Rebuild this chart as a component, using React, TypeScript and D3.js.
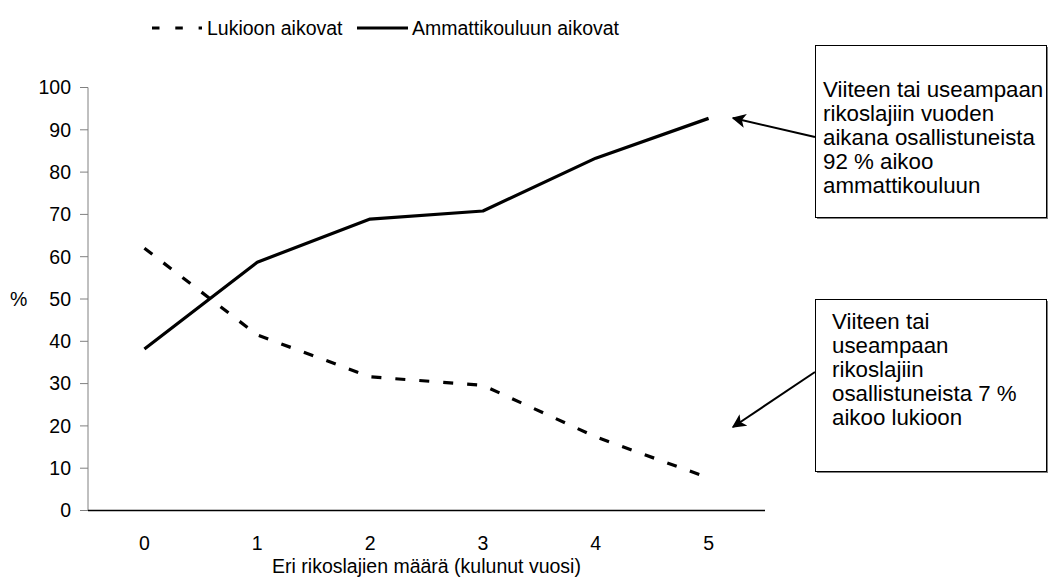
import React from 'react';
import * as d3 from 'd3';

const categories = ['0', '1', '2', '3', '4', '5'];
const lukioon = [62.0, 41.5, 31.6, 29.6, 17.4, 7.7];
const ammatti = [38.2, 58.7, 68.9, 70.8, 83.3, 92.7];
const yTicks = [0, 10, 20, 30, 40, 50, 60, 70, 80, 90, 100];
const seriesNames = ['Lukioon aikovat', 'Ammattikouluun aikovat'];
const note1 = [
  'Viiteen tai useampaan',
  'rikoslajiin vuoden',
  'aikana osallistuneista',
  '92 % aikoo',
  'ammattikouluun',
];
const note2 = [
  'Viiteen tai',
  'useampaan',
  'rikoslajiin',
  'osallistuneista 7 %',
  'aikoo lukioon',
];

const W = 1049;
const H = 577;
const FONT = 'Liberation Sans, Arial, sans-serif';
const FS = 19.5;
const NOTE_FS = 22.3;

export default function App() {
  const x = d3.scalePoint<string>().domain(categories).range([88, 765]).padding(0.5);
  const y = d3.scaleLinear().domain([0, 100]).range([510.5, 87.5]);

  const line = d3
    .line<number>()
    .x((_, i) => x(categories[i]) as number)
    .y((d) => y(d));

  return (
    <svg
      width={W}
      height={H}
      style={{ position: 'absolute', left: 0, top: 0, background: '#fff' }}
      fontFamily={FONT}
      fontSize={FS}
    >
      <defs>
        <marker
          id="arr"
          viewBox="0 0 10 10"
          refX="9"
          refY="5"
          markerWidth="14"
          markerHeight="14"
          markerUnits="userSpaceOnUse"
          orient="auto"
        >
          <path d="M0,0 L10,5 L0,10 L2.5,5 Z" fill="#000" />
        </marker>
      </defs>

      {/* legend */}
      <line x1={152} x2={202} y1={28} y2={28} stroke="#000" strokeWidth={3} strokeDasharray="7.5,15.8" />
      <text x={207} y={35}>{seriesNames[0]}</text>
      <line x1={357} x2={408} y1={28} y2={28} stroke="#000" strokeWidth={3} />
      <text x={412} y={35}>{seriesNames[1]}</text>

      {/* y axis */}
      <line x1={88} x2={88} y1={y(100)} y2={y(0)} stroke="#808080" strokeWidth={1} />
      {yTicks.map((t) => (
        <g key={t}>
          <line x1={80} x2={88} y1={y(t)} y2={y(t)} stroke="#808080" strokeWidth={1} />
          <text x={71} y={y(t)} dy="0.35em" textAnchor="end">
            {t}
          </text>
        </g>
      ))}
      <text x={10} y={y(50)} dy="0.35em">%</text>

      {/* x axis */}
      <line x1={88} x2={765} y1={y(0)} y2={y(0)} stroke="#000" strokeWidth={1.5} />
      {categories.map((c) => (
        <text key={c} x={x(c)} y={550} textAnchor="middle">
          {c}
        </text>
      ))}
      <text x={426.5} y={573} textAnchor="middle">
        Eri rikoslajien määrä (kulunut vuosi)
      </text>

      {/* series */}
      <path d={line(lukioon) || ''} fill="none" stroke="#000" strokeWidth={3.2} strokeDasharray="10,14" />
      <path d={line(ammatti) || ''} fill="none" stroke="#000" strokeWidth={3.2} strokeLinejoin="round" />

      {/* annotation 1 */}
      <rect x={815.5} y={45.5} width={231} height={172} fill="#fff" stroke="#000" strokeWidth={1} />
      <line x1={1047.5} x2={1047.5} y1={47} y2={219} stroke="#808080" strokeWidth={1} />
      <line x1={817} x2={1047.5} y1={218.5} y2={218.5} stroke="#808080" strokeWidth={1} />
      {note1.map((s, i) => (
        <text key={i} x={823} y={97 + i * 24} fontSize={NOTE_FS}>
          {s}
        </text>
      ))}
      <line x1={815} y1={137} x2={733} y2={118} stroke="#000" strokeWidth={2} markerEnd="url(#arr)" />

      {/* annotation 2 */}
      <rect x={815.5} y={299.5} width={231} height={172} fill="#fff" stroke="#000" strokeWidth={1} />
      <line x1={1047.5} x2={1047.5} y1={301} y2={473} stroke="#808080" strokeWidth={1} />
      <line x1={817} x2={1047.5} y1={472.5} y2={472.5} stroke="#808080" strokeWidth={1} />
      {note2.map((s, i) => (
        <text key={i} x={832} y={329 + i * 24} fontSize={NOTE_FS}>
          {s}
        </text>
      ))}
      <line x1={815} y1={372} x2={733} y2={427} stroke="#000" strokeWidth={2} markerEnd="url(#arr)" />
    </svg>
  );
}
